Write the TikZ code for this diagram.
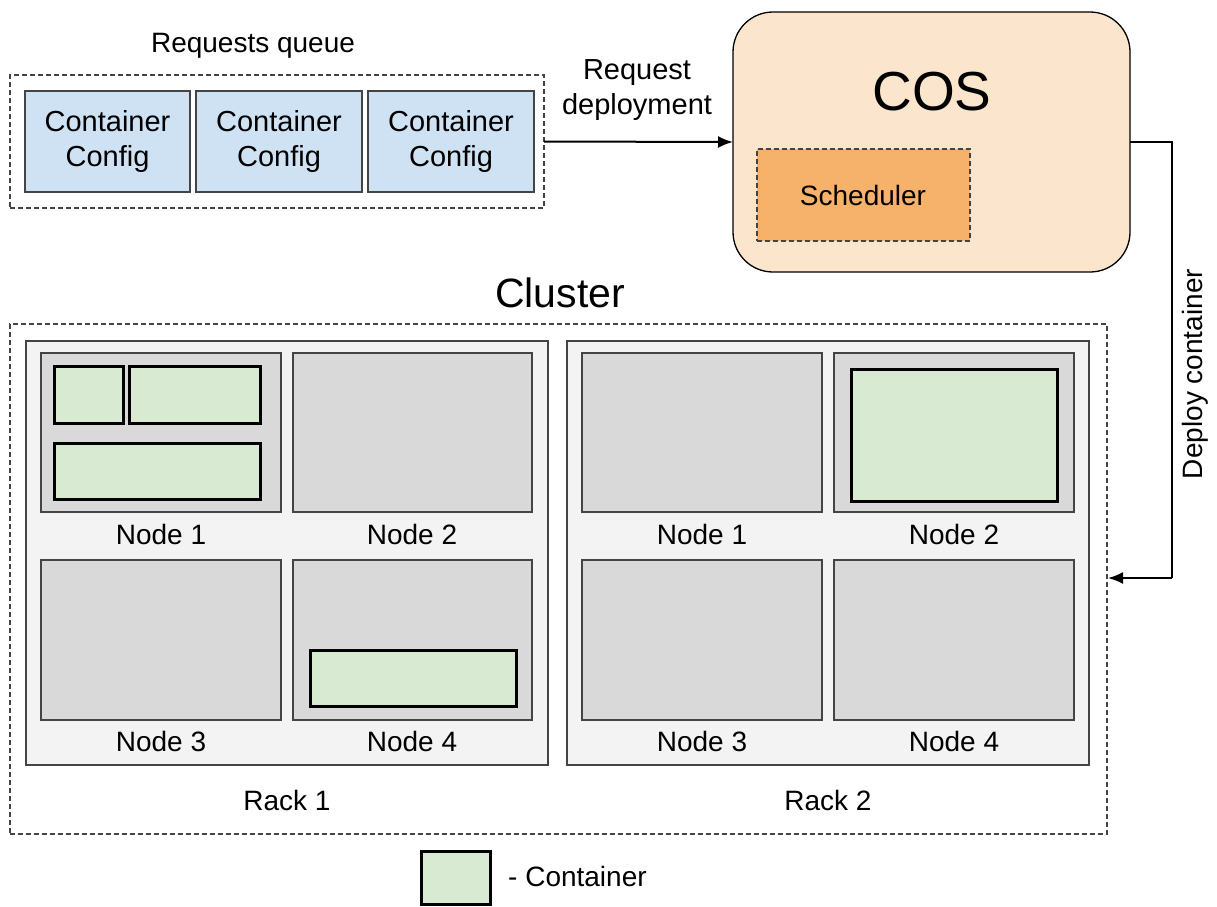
\documentclass[tikz,border=0pt]{standalone}
\usepackage{fontspec}
\setmainfont{Liberation Sans}
\usetikzlibrary{fit,arrows.meta}
\definecolor{cfgblue}{HTML}{CFE2F3}
\definecolor{cospeach}{HTML}{FCE5CD}
\definecolor{schedorange}{HTML}{F6B26B}
\definecolor{contgreen}{HTML}{D9EAD3}
\definecolor{nodegray}{HTML}{D9D9D9}
\definecolor{rackgray}{HTML}{F3F3F3}
\definecolor{edgegray}{HTML}{444444}
\newcommand{\fs}[1]{\fontsize{#1}{#1}\selectfont}
\begin{document}
\begin{tikzpicture}[x=1pt,y=-1pt,
  rbox/.style={inner sep=0pt, outer sep=0pt},
  dashbox/.style={rbox, draw=edgegray, dash pattern=on 5pt off 3pt, line width=1.2pt},
  cfgbox/.style={rbox, draw=edgegray, fill=cfgblue, line width=1.3pt},
  cfgtxt/.style={align=center, inner sep=0pt, font=\fontsize{29}{35}\selectfont},
  rackbox/.style={rbox, draw=edgegray, fill=rackgray, line width=1.3pt},
  nodebox/.style={rbox, draw=edgegray, fill=nodegray, line width=1.3pt},
  contbox/.style={rbox, draw=black, fill=contgreen, line width=3pt},
  lbl/.style={font=\fs{28}, inner sep=0pt},
  conn/.style={line width=2pt, -{Latex[length=15pt,width=12pt]}}
]
\useasboundingbox (0,0) rectangle (1217,906);

% Requests queue
\node[dashbox, fit={(10,75) (544,208)}] (queue) {};
\node[lbl] (qlbl) at (253,46) {Requests queue};
\node[cfgbox, fit={(25,91) (190,192)}] (c1) {};
\node[cfgbox, fit={(196,91) (362,192)}] (c2) {};
\node[cfgbox, fit={(368,91) (534,192)}] (c3) {};
\node[cfgtxt] (c1t) at (c1.center) {Container\\Config};
\node[cfgtxt] (c2t) at (c2.center) {Container\\Config};
\node[cfgtxt] (c3t) at (c3.center) {Container\\Config};

% COS
\node[rbox, draw=black, fill=cospeach, line width=1.3pt, rounded corners=40pt, fit={(733,12) (1130,272)}] (cos) {};
\node[font=\fs{55}, inner sep=0pt] (costxt) at (932,92) {COS};
\node[dashbox, fill=schedorange, fit={(757,149) (970,241)}] (sched) {};
\node[lbl] (schedt) at (863,195) {Scheduler};

% Request deployment arrow
\draw[conn] (queue.east) -- (cos.west);
\node[lbl, align=center, font=\fontsize{29}{35}\selectfont] (reqlbl) at (637,90) {Request\\deployment};

% Cluster
\node[font=\fs{41}, inner sep=0pt] (clbl) at (560,293) {Cluster};
\node[dashbox, fit={(10,324) (1107,834)}] (cluster) {};

% Deploy container arrow
\coordinate (dstart) at (1172,142);
\coordinate (dend) at (1172,578);
\coordinate (dtip) at (1108,578);
\draw[line width=2pt] (cos.east) -- (dstart) -- (dend);
\draw[conn] (dend) -- (dtip);
\node[lbl, rotate=90] (deplbl) at (1195,374) {Deploy container};

% Racks
\node[rackbox, fit={(26,341) (548,765)}] (rack1) {};
\node[rackbox, fit={(567,341) (1089,765)}] (rack2) {};
\node[lbl] (r1l) at (287,800) {Rack 1};
\node[lbl] (r2l) at (828,800) {Rack 2};

% Rack 1 nodes
\node[nodebox, fit={(41,353) (281,512)}] (r1n1) {};
\node[nodebox, fit={(293,353) (532,512)}] (r1n2) {};
\node[nodebox, fit={(41,560) (281,720)}] (r1n3) {};
\node[nodebox, fit={(293,560) (532,720)}] (r1n4) {};
\node[lbl] (r1n1l) at (161,534) {Node 1};
\node[lbl] (r1n2l) at (412,534) {Node 2};
\node[lbl] (r1n3l) at (161,741) {Node 3};
\node[lbl] (r1n4l) at (412,741) {Node 4};

% Rack 2 nodes
\node[nodebox, fit={(582,353) (822,512)}] (r2n1) {};
\node[nodebox, fit={(834,353) (1074,512)}] (r2n2) {};
\node[nodebox, fit={(582,560) (822,720)}] (r2n3) {};
\node[nodebox, fit={(834,560) (1074,720)}] (r2n4) {};
\node[lbl] (r2n1l) at (702,534) {Node 1};
\node[lbl] (r2n2l) at (954,534) {Node 2};
\node[lbl] (r2n3l) at (702,741) {Node 3};
\node[lbl] (r2n4l) at (954,741) {Node 4};

% Containers
\node[contbox, fit={(54,366) (123,423)}] (k1) {};
\node[contbox, fit={(129,366) (260,423)}] (k2) {};
\node[contbox, fit={(54,443) (260,499)}] (k3) {};
\node[contbox, fit={(310,650) (516,706)}] (k4) {};
\node[contbox, fit={(851,369) (1057,501)}] (k5) {};

% Legend
\node[contbox, fit={(421,851) (490,904)}] (leg) {};
\node[lbl, anchor=west] (legt) at (508,876) {- Container};
\end{tikzpicture}
\end{document}
